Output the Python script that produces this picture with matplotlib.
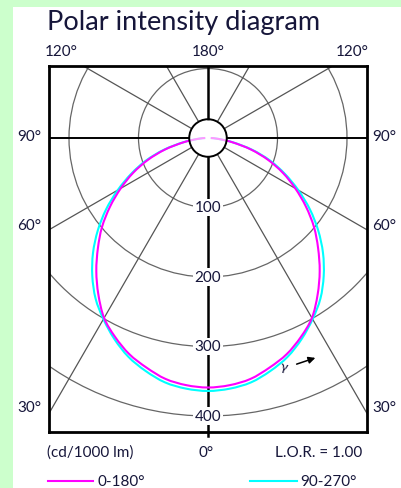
import matplotlib
matplotlib.use("Agg")
import matplotlib.pyplot as plt
import numpy as np
from matplotlib.patches import Circle, Rectangle, PathPatch
from matplotlib.path import Path

# luminous intensity (cd/1000 lm) vs angle from nadir, symmetric per plane
ANGLES = [0, 5, 10, 15, 20, 25, 30, 35, 40, 45, 50, 55, 60, 65, 70, 75, 80, 85, 90]
C0_180 = [359, 357, 352, 342, 331, 316, 299, 275, 250, 224, 199, 172, 145, 119, 92, 64, 36, 15, 4]
C90_270 = [364, 362, 357, 347, 335, 319, 301, 282, 259, 234, 207, 179, 150, 122, 95, 66, 37, 15, 4]
RINGS = [100, 200, 300, 400]
SPOKES = [30, 60, 120, 150]
SIDE_LABELS = ["90°", "60°", "30°"]
TOP_LABELS = ["120°", "180°", "120°"]

W, H = 401, 489
PX = 0.695                     # pixels per cd/klm
CX, CY = 208, 139              # pole in pixels
L, R, T, B = 49, 367, 67, 433  # frame in pixels
HUB = 27                       # hub circle radius (cd units)
TXT = "#16163a"
FS = 11

plt.rcParams["font.family"] = ["Lato", "DejaVu Sans"]

fig = plt.figure(figsize=(W / 100, H / 100), dpi=100)
fig.patch.set_facecolor("#ccffcc")
fig.add_artist(Rectangle((13 / W, 0), 1, 1 - 8 / H, transform=fig.transFigure,
                         facecolor="white", edgecolor="none", zorder=0))

ax = fig.add_axes([L / W, 1 - B / H, (R - L) / W, (B - T) / H])
ax.set_xlim((L - CX) / PX, (R - CX) / PX)
ax.set_ylim(-(B - CY) / PX, (CY - T) / PX)
ax.set_xticks([]); ax.set_yticks([])
ax.patch.set_alpha(0)
for s in ax.spines.values():
    s.set_linewidth(2.0)
    s.set_color("black")

x0, x1 = ax.get_xlim()
y0, y1 = ax.get_ylim()

# rings
for r in RINGS:
    ax.add_patch(Circle((0, 0), r, fill=False, edgecolor="#666666", lw=0.9, zorder=1))
    ax.text(0, -r, str(r), ha="center", va="center", fontsize=FS, color=TXT, zorder=5,
            bbox=dict(facecolor="white", edgecolor="none", pad=1.2))

# spokes
far = 1000
for a in SPOKES:
    t = np.radians(a)
    for sgn in (-1, 1):
        ax.plot([sgn * HUB * np.sin(t), sgn * far * np.sin(t)],
                [-HUB * np.cos(t), -far * np.cos(t)], color="#555555", lw=0.9, zorder=1)

# main axes lines
ax.plot([0, 0], [-HUB, y0 - 6], color="black", lw=1.8, zorder=2, clip_on=False)
ax.plot([0, 0], [HUB, y1], color="black", lw=1.8, zorder=2)
ax.plot([x0, -HUB], [0, 0], color="black", lw=1.4, zorder=2)
ax.plot([HUB, x1], [0, 0], color="black", lw=1.4, zorder=2)


def curve(vals):
    th = np.radians(np.array(ANGLES, dtype=float))
    v = np.array(vals, dtype=float)
    th = np.concatenate([-th[::-1], th[1:]])
    v = np.concatenate([v[::-1], v[1:]])
    return v * np.sin(th), -v * np.cos(th)


def smooth(xs, ys, color):
    # catmull-rom through the measured points, drawn as cubic beziers
    p = np.column_stack([xs, ys])
    n = len(p)
    verts, codes = [p[0]], [Path.MOVETO]
    for i in range(n - 1):
        pm = p[max(i - 1, 0)]
        pp = p[min(i + 2, n - 1)]
        verts += [p[i] + (p[i + 1] - pm) / 6, p[i + 1] - (pp - p[i]) / 6, p[i + 1]]
        codes += [Path.CURVE4] * 3
    ax.add_patch(PathPatch(Path(verts, codes), fill=False, edgecolor=color, lw=1.5, zorder=3))


smooth(*curve(C90_270), "#00ffff")
smooth(*curve(C0_180), "#ff00ff")

ax.add_patch(Circle((0, 0), HUB, facecolor=(1, 1, 1, 0.6), edgecolor="black", lw=1.4, zorder=4))

# gamma arrow
ax.text((284 - CX) / PX, -(367 - CY) / PX, "γ", fontsize=9.5, color=TXT, ha="center", va="center",
        rotation=-15, zorder=5)
ax.annotate("", xy=((318 - CX) / PX, -(358 - CY) / PX), xytext=((294 - CX) / PX, -(366 - CY) / PX),
            arrowprops=dict(arrowstyle="-|>", color="black", lw=1.1, mutation_scale=10), zorder=5)


def ftext(x, y, s, **kw):
    kw.setdefault("fontsize", FS)
    kw.setdefault("color", TXT)
    fig.text(x / W, 1 - y / H, s, **kw)


ftext(47, 30, "Polar intensity diagram", fontsize=19.5, va="baseline")
for xp, lab in zip([61, 208, 352], TOP_LABELS):
    ftext(xp, 52, lab, ha="center", va="center")
for yp, lab in zip([137, 226, 408], SIDE_LABELS):
    ftext(29, yp, lab, ha="center", va="center")
    ftext(384, yp, lab, ha="center", va="center")

ftext(47, 453, "(cd/1000 lm)", va="center")
ftext(206, 453, "0°", ha="center", va="center")
ftext(362, 453, "L.O.R. = 1.00", ha="right", va="center")

# legend
lg = fig.add_axes([0, 0, 1, 1], facecolor="none")
lg.set_xlim(0, W); lg.set_ylim(H, 0); lg.axis("off")
lg.plot([48, 93], [482, 482], color="#ff00ff", lw=1.5)
lg.plot([250, 297], [482, 482], color="#00ffff", lw=1.5)
ftext(98, 482, "0-180°", va="center")
ftext(300, 482, "90-270°", va="center")

fig.savefig("out.png", dpi=100)
